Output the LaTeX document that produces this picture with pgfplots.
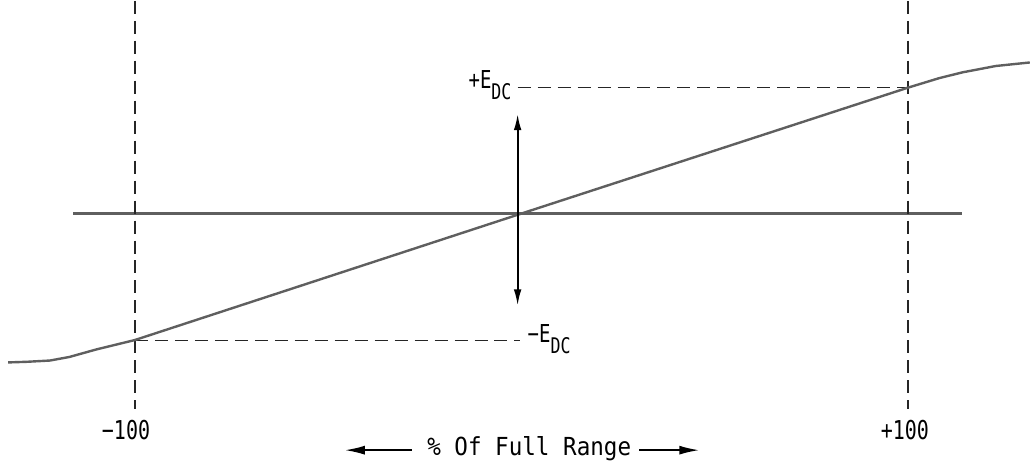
\documentclass[border=0pt]{standalone}
\usepackage{pgfplots}
\pgfplotsset{compat=1.18}
\usetikzlibrary{arrows.meta}
\usepackage{fontspec}
\setmainfont{DejaVu Sans Mono}
\definecolor{curve}{HTML}{5F5F5F}
\newcommand{\tall}[1]{\scalebox{1}[1.3]{#1}}
\begin{document}
\begin{tikzpicture}
\begin{axis}[
  width=515.5pt, height=231.5pt, scale only axis,
  xmin=-134.9, xmax=131.5, ymin=-1.984, ymax=1.690,
  hide axis, clip=false,
]
\path (rel axis cs:0,0) rectangle (rel axis cs:1,1);
% horizontal axis line
\addplot[curve, line width=1.3pt] coordinates {(-116,0) (114,0)};
% dashed vertical lines
\addplot[black!85, line width=0.8pt, dash pattern=on 6.5pt off 3.5pt] coordinates {(-100,1.69) (-100,-1.55)};
\addplot[black!85, line width=0.8pt, dash pattern=on 6.5pt off 3.5pt] coordinates {(100,1.69) (100,-1.55)};
% dashed horizontal E_DC lines
\addplot[black!85, line width=0.8pt, dash pattern=on 6.5pt off 3.5pt] coordinates {(-1,1.0) (100,1.0)};
\addplot[black!85, line width=0.8pt, dash pattern=on 6.5pt off 3.5pt] coordinates {(-100,-1.008) (-0.5,-1.008)};
% transfer curve
\addplot[curve, line width=1.2pt] coordinates {
(-132.8,-1.183) (-128,-1.178) (-122,-1.168) (-117,-1.14) (-110,-1.08) (-100,-1.005)
(0,0) (100,1.0) (108,1.075) (114,1.121) (122.7,1.172) (131.5,1.2)};
% vertical double arrow
\draw[black, line width=0.9pt, {Latex[length=8pt,width=3.8pt]}-{Latex[length=8pt,width=3.8pt]}] (axis cs:-1,0.79) -- (axis cs:-1,-0.73);
% labels
\node[anchor=east, inner sep=0pt, font=\fontsize{9.5}{11}\selectfont] at (axis cs:-2.5,1.02) {\tall{+E}\raisebox{-1.1ex}{\fontsize{8.3}{9}\selectfont\tall{DC}}};
\node[anchor=west, inner sep=0pt, font=\fontsize{9.5}{11}\selectfont] at (axis cs:1.5,-1.0) {\tall{−E}\raisebox{-1.1ex}{\fontsize{8.3}{9}\selectfont\tall{DC}}};
\node[inner sep=0pt, font=\fontsize{10}{12}\selectfont] at (axis cs:-102.3,-1.722) {\tall{−100}};
\node[inner sep=0pt, font=\fontsize{10}{12}\selectfont] at (axis cs:99.2,-1.722) {\tall{+100}};
\node[inner sep=0pt, font=\fontsize{11.3}{13}\selectfont] at (axis cs:2,-1.865) {\scalebox{1}[1.1]{\% Of Full Range}};
\draw[black, line width=0.9pt, -{Latex[length=10pt,width=4.5pt]}] (axis cs:-28.4,-1.88) -- (axis cs:-45.7,-1.88);
\draw[black, line width=0.9pt, -{Latex[length=10pt,width=4.5pt]}] (axis cs:30.5,-1.88) -- (axis cs:46,-1.88);
\end{axis}
\end{tikzpicture}
\end{document}
